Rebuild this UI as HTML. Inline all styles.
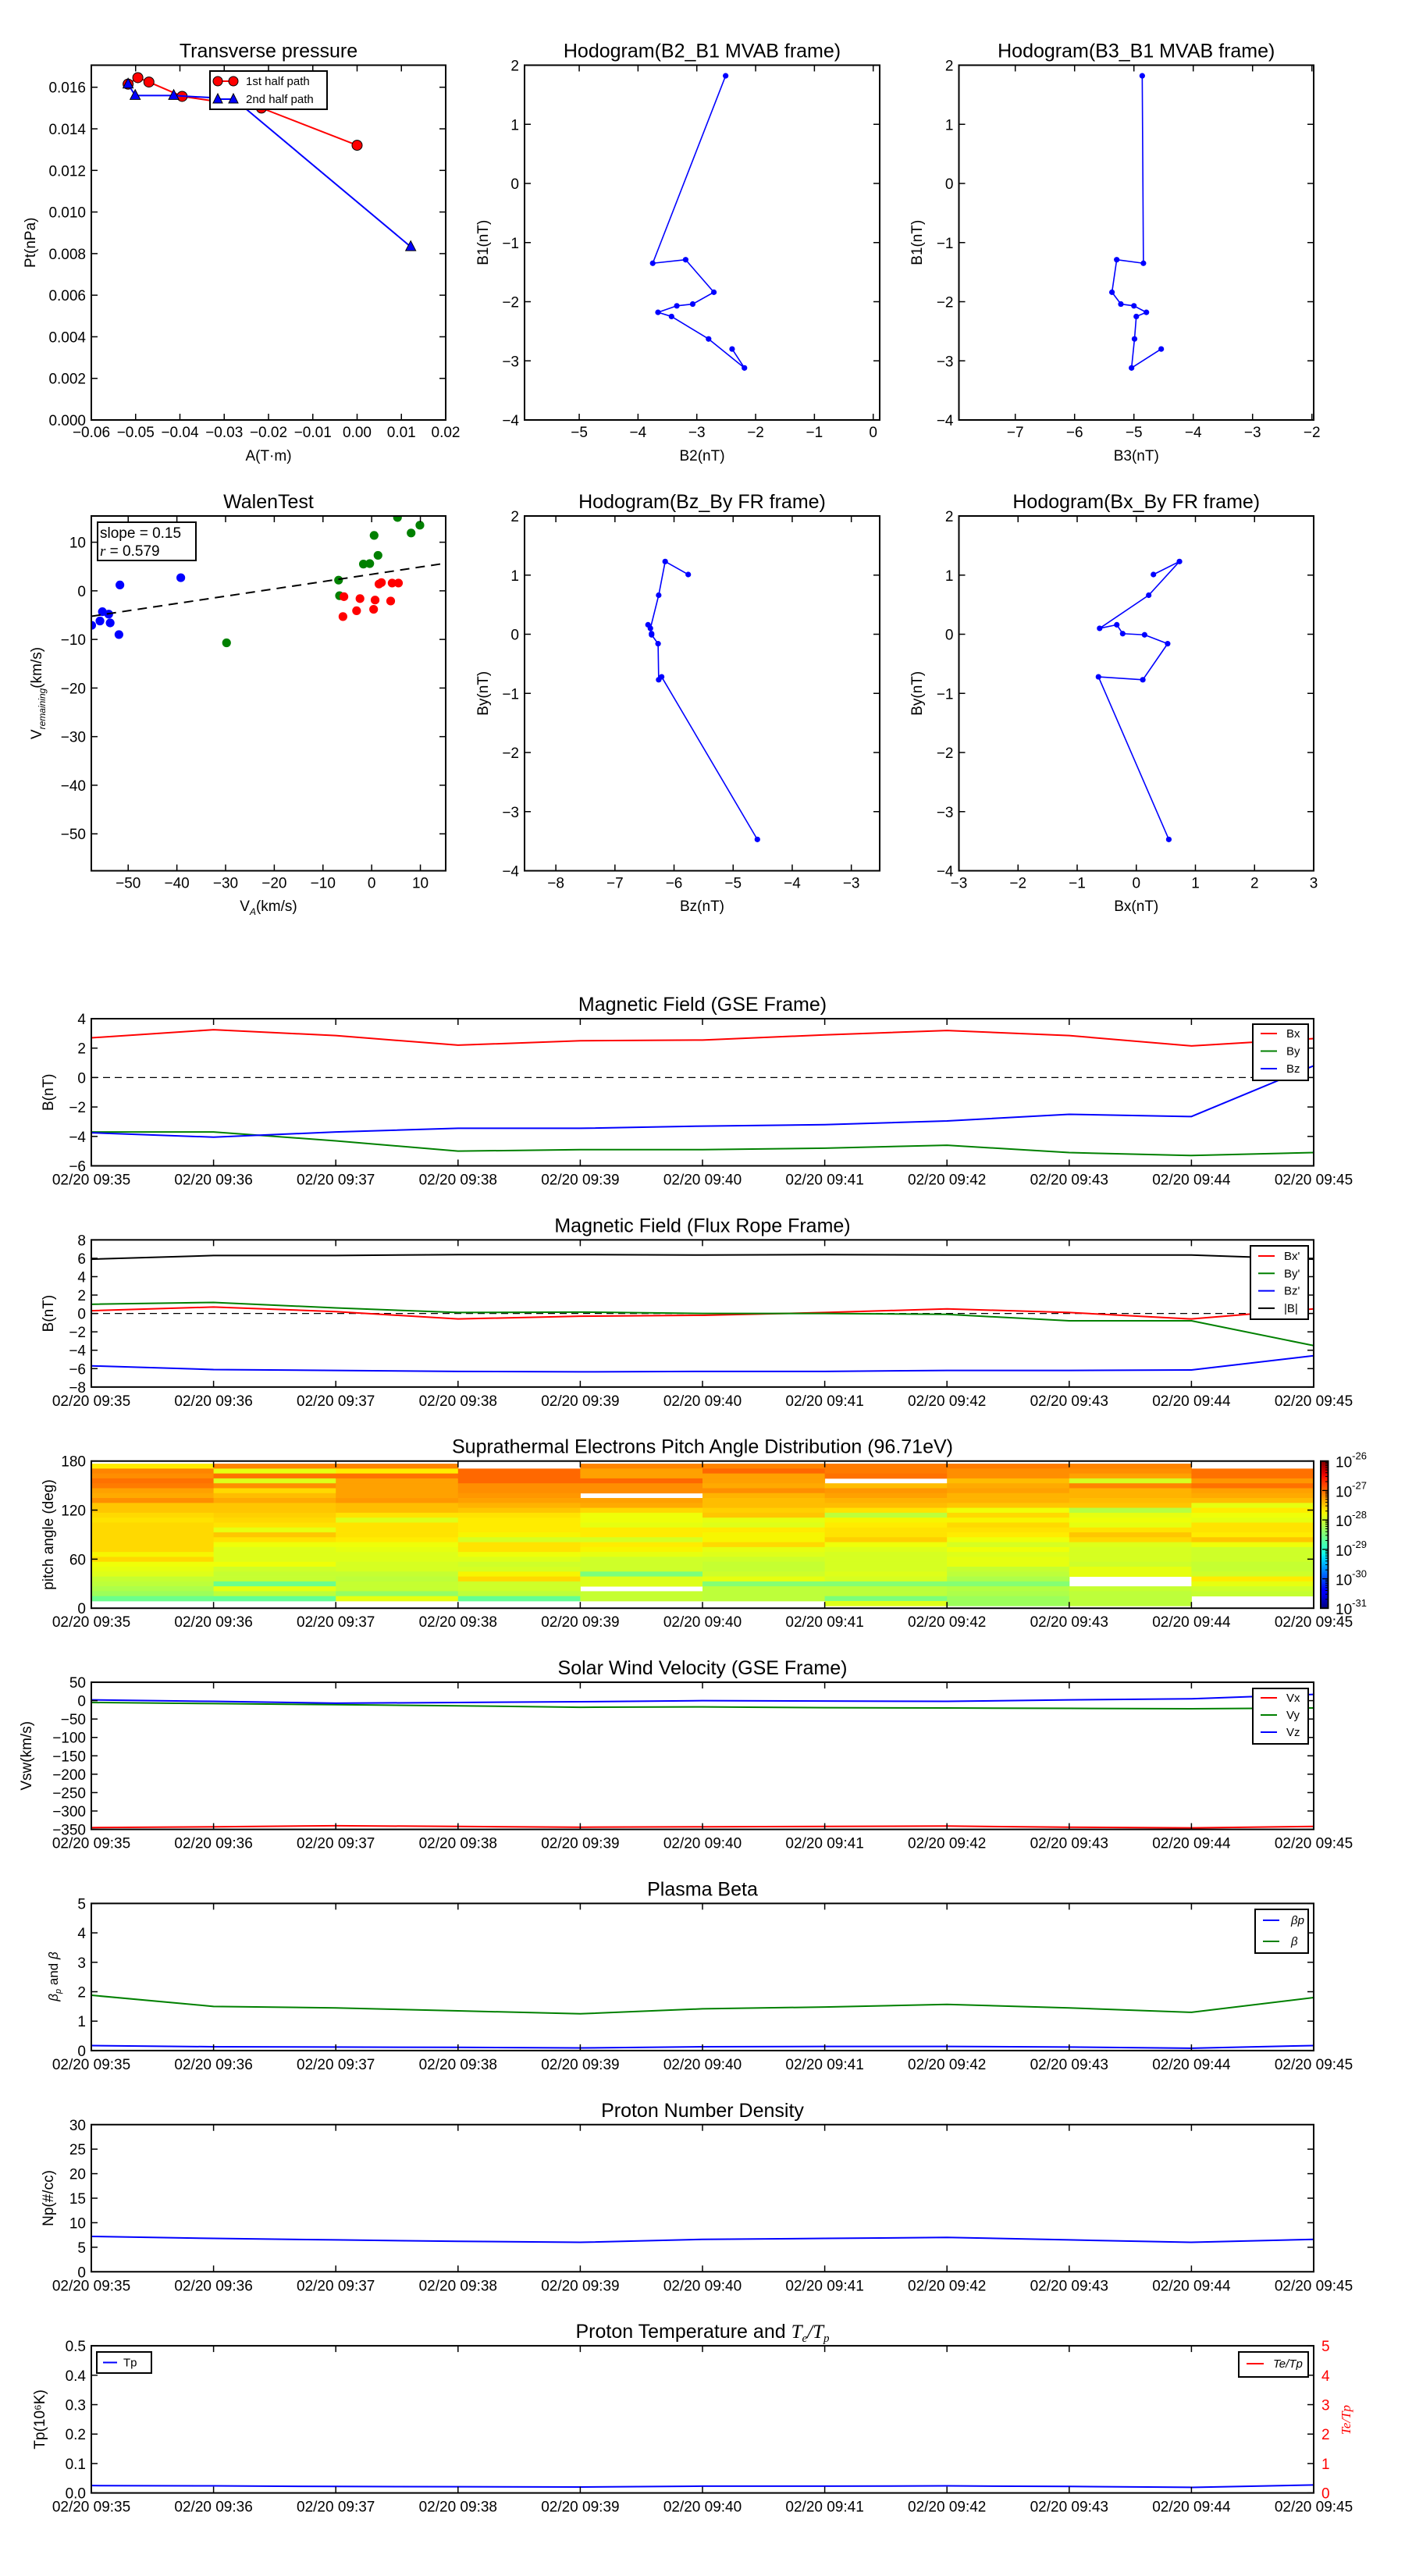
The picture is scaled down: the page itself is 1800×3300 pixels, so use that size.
<!DOCTYPE html>
<html><head><meta charset="utf-8"><title>Flux rope analysis</title>
<style>
html,body{margin:0;padding:0;background:#fff;}
svg{display:block;font-family:"Liberation Sans","DejaVu Sans",sans-serif;}
</style></head>
<body>
<svg id="fig" xmlns="http://www.w3.org/2000/svg" width="1800" height="3300" viewBox="0 0 1800 3300">
<rect x="0" y="0" width="1800" height="3300" fill="#fff"/>
</svg>
<script>
// ---------------- DATA ----------------
const timeLabels=['02/20 09:35','02/20 09:36','02/20 09:37','02/20 09:38','02/20 09:39','02/20 09:40','02/20 09:41','02/20 09:42','02/20 09:43','02/20 09:44','02/20 09:45'];
// transverse pressure
const ptA1=[-0.0517,-0.0495,-0.047,-0.0395,-0.0216,0.0];
const ptP1=[0.01615,0.01646,0.01625,0.01556,0.0150,0.01321];
const ptA2=[-0.0517,-0.0501,-0.0414,-0.0278,0.0121];
const ptP2=[0.01615,0.0156,0.0156,0.01544,0.00833];
// MVAB hodograms
const mvB1=[1.82,-1.35,-1.29,-1.84,-2.04,-2.07,-2.18,-2.25,-2.63,-3.12,-2.80];
const mvB2=[-2.51,-3.75,-3.19,-2.71,-3.07,-3.34,-3.66,-3.43,-2.80,-2.19,-2.40];
const mvB3=[-4.86,-4.84,-5.29,-5.37,-5.22,-5.00,-4.79,-4.96,-4.99,-5.04,-4.54];
// FR hodograms
const frBy=[1.01,1.23,0.66,0.10,0.16,0.01,-0.01,-0.16,-0.77,-0.72,-3.47];
const frBx=[0.29,0.73,0.21,-0.62,-0.33,-0.23,0.14,0.53,0.11,-0.64,0.55];
const frBz=[-5.76,-6.15,-6.26,-6.40,-6.44,-6.38,-6.38,-6.27,-6.26,-6.21,-4.59];
// Walen test
const walenBlueX=[-57.5,-55.8,-55.3,-54.0,-53.7,-51.9,-51.7,-39.2];
const walenBlueY=[-7.1,-6.2,-4.3,-4.8,-6.6,-9.0,1.2,2.7];
const walenGreenX=[-29.8,-6.8,-6.6,-1.7,-0.4,0.5,1.3,5.3,8.1,9.9];
const walenGreenY=[-10.7,2.2,-1.0,5.5,5.6,11.4,7.3,15.1,11.9,13.5];
const walenRedX=[-5.7,-5.9,-3.1,-2.4,0.4,0.7,1.5,2.0,3.9,4.2,5.5];
const walenRedY=[-1.2,-5.3,-4.1,-1.6,-3.8,-1.9,1.4,1.7,-2.1,1.6,1.6];
const walenSlope=0.15;
const walenIntercept=3.4;
// GSE B
const gseBx=[2.7,3.25,2.85,2.2,2.5,2.55,2.9,3.2,2.85,2.15,2.65];
const gseBy=[-3.7,-3.7,-4.3,-5.0,-4.9,-4.9,-4.8,-4.6,-5.1,-5.3,-5.1];
const gseBz=[-3.75,-4.05,-3.7,-3.45,-3.45,-3.3,-3.2,-2.95,-2.5,-2.65,0.8];
// FR B
const frpBx=[0.3,0.7,0.2,-0.6,-0.3,-0.2,0.1,0.5,0.1,-0.6,0.5];
const frpBy=[1.0,1.2,0.6,0.1,0.15,0.0,0.0,-0.1,-0.8,-0.8,-3.5];
const frpBz=[-5.7,-6.1,-6.2,-6.3,-6.35,-6.3,-6.3,-6.2,-6.2,-6.15,-4.6];
const frpBt=[5.9,6.3,6.3,6.4,6.4,6.35,6.4,6.35,6.35,6.35,5.9];
// PAD: log10 values, 10 columns, rows from top pitch bin down
const padBinWidth=6;
const padTopPitch=176.8;
const N=NaN;
const padCol0=[-27.7,-27.15,-27.2,-27.05,-27.1,-27.3,-27.35,-27.2,-27.5,-27.5,-27.6,-27.65,-27.6,-27.6,-27.6,-27.6,-27.6,-27.6,-27.75,-27.6,-27.8,-27.85,-27.9,-28.05,-28.1,-28.2,-28.3,-28.6,N];
const padCol1=[-27.15,-27.85,-27.05,-27.9,-27.2,-27.6,-27.45,-27.35,-27.5,-27.5,-27.55,-27.6,-27.65,-27.85,-27.5,-27.65,-27.8,-27.9,-27.9,-27.9,-27.8,-28.0,-28.05,-28.05,-28.6,-27.85,-28.1,-28.65,N];
const padCol2=[-27.15,-27.7,-27.05,-27.3,-27.3,-27.3,-27.3,-27.25,-27.45,-27.45,-27.65,-27.9,-27.65,-27.65,-27.65,-27.7,-27.8,-27.85,-27.9,-27.9,-27.95,-27.95,-28.05,-28.1,-28.05,-28.05,-28.35,-27.85,N];
const padCol3=[N,-27.0,-27.0,-27.0,-27.2,-27.2,-27.25,-27.3,-27.4,-27.5,-27.65,-27.7,-27.7,-27.7,-27.75,-27.95,-27.65,-27.65,-27.8,-27.9,-28.0,-27.95,-27.75,-27.6,-28.0,-28.0,-28.1,-28.65,N];
const padCol4=[-27.15,-27.3,-27.3,-27.0,-27.2,-27.2,N,-27.3,-27.35,-27.6,-27.8,-27.8,-27.85,-27.7,-27.7,-27.95,-27.7,-27.75,-27.85,-28.0,-28.0,-28.0,-28.5,-27.9,-27.9,N,-28.05,-28.05,N];
const padCol5=[-27.15,-27.0,-27.3,-27.3,-27.35,-27.2,-27.4,-27.45,-27.45,-27.55,-27.5,-27.85,-27.9,-27.7,-27.75,-27.75,-27.6,-27.85,-27.9,-28.0,-28.05,-28.05,-28.0,-27.85,-28.45,-28.1,-28.1,-28.1,N];
const padCol6=[-27.1,-27.1,-27.05,N,-27.45,-27.25,-27.3,-27.4,-27.45,-27.65,-28.1,-27.75,-27.7,-27.65,-27.65,-27.55,-27.8,-27.9,-27.95,-27.95,-27.95,-27.95,-27.9,-27.95,-28.45,-28.1,-28.1,-28.5,-27.9];
const padCol7=[-27.1,-27.2,-27.2,-27.45,-27.35,-27.3,-27.4,-27.4,-27.5,-27.8,-27.6,-27.75,-27.6,-27.65,-27.7,-27.8,-27.95,-27.8,-27.9,-27.85,-27.85,-28.05,-28.1,-28.2,-28.45,-28.15,-28.2,-28.3,-28.3];
const padCol8=[-27.15,-27.2,-27.3,-27.95,-27.15,-27.4,-27.4,-27.45,-27.5,-28.15,-27.85,-27.8,-27.85,-27.65,-27.5,-27.6,-27.9,-27.95,-27.95,-27.95,-28.0,-27.85,-27.85,N,N,-28.05,-28.1,-28.1,-28.1];
const padCol9=[N,-27.05,-27.05,-27.25,-27.05,-27.3,-27.35,-27.45,-27.85,-27.7,-27.8,-27.85,-27.65,-27.65,-27.7,-27.5,-27.8,-28.0,-28.0,-28.0,-28.05,-28.05,-28.0,-27.7,-27.85,-28.0,-28.05,N,N];
const padCols=[padCol0,padCol1,padCol2,padCol3,padCol4,padCol5,padCol6,padCol7,padCol8,padCol9];
const padLogMin=-31, padLogMax=-26;
// Solar wind velocity
const vswVx=[-345,-343,-340,-342,-344,-343,-342,-341,-344,-346,-342];
const vswVy=[-5,-8,-11,-14,-18,-17,-19,-20,-21,-22,-20];
const vswVz=[2,-2,-7,-5,-3,0,-1,-2,2,5,17];
// beta
const betaP=[0.17,0.13,0.12,0.11,0.09,0.13,0.14,0.14,0.12,0.08,0.17];
const betaT=[1.88,1.5,1.45,1.35,1.25,1.42,1.48,1.57,1.45,1.3,1.8];
// density
const npVals=[7.2,6.8,6.5,6.2,6.0,6.6,6.8,7.0,6.5,6.0,6.6];
// temperature
const tpVals=[0.025,0.024,0.022,0.021,0.020,0.023,0.023,0.024,0.022,0.019,0.027];

// ---------------- HELPERS ----------------
const NS='http://www.w3.org/2000/svg';
const svg=document.getElementById('fig');
let clipId=0;
function mk(tag,attrs,parent,name){
  const e=document.createElementNS(NS,tag);
  for(const k in attrs)e.setAttribute(k,attrs[k]);
  
  
  (parent||svg).appendChild(e);return e;
}
function txt(s,attrs,parent,name){const e=mk('text',attrs,parent,name);e.textContent=s;return e;}
function fmtMinus(s){return String(s).replace('-','\u2212');}

function axes(name,b,xlim,ylim,o){
  const g=mk('g',{},svg,name);
  const sx=v=>b.x+(v-xlim[0])/(xlim[1]-xlim[0])*b.w;
  const sy=v=>b.y+b.h-(v-ylim[0])/(ylim[1]-ylim[0])*b.h;
  const cid='clip'+(clipId++);
  const cp=mk('clipPath',{id:cid},g,name+'-clip');
  mk('rect',{x:b.x,y:b.y,width:b.w,height:b.h},cp,name+'-clip-rect');
  const data=mk('g',{'clip-path':'url(#'+cid+')'},g,name+'-data');
  const frame=mk('g',{},g,name+'-frame');
  mk('rect',{x:b.x,y:b.y,width:b.w,height:b.h,fill:'none',stroke:'#000','stroke-width':2},frame,name+'-spines');
  const xt=o.xt||[], yt=o.yt||[];
  xt.forEach((v,i)=>{
    const X=sx(v);
    mk('line',{x1:X,x2:X,y1:b.y+b.h,y2:b.y+b.h-8,stroke:'#000','stroke-width':1.5},frame,name+'-xtick');
    mk('line',{x1:X,x2:X,y1:b.y,y2:b.y+8,stroke:'#000','stroke-width':1.5},frame,name+'-xtick-top');
    txt(o.xtl[i],{x:X,y:b.y+b.h+(o.xly||24),'font-size':19,'text-anchor':'middle',fill:'#000'},frame,'x-tick-label');
  });
  yt.forEach((v,i)=>{
    const Y=sy(v);
    mk('line',{x1:b.x,x2:b.x+8,y1:Y,y2:Y,stroke:'#000','stroke-width':1.5},frame,name+'-ytick');
    if(!o.noRightTicks) mk('line',{x1:b.x+b.w,x2:b.x+b.w-8,y1:Y,y2:Y,stroke:'#000','stroke-width':1.5},frame,name+'-ytick-right');
    txt(o.ytl[i],{x:b.x-7,y:Y+7,'font-size':19,'text-anchor':'end',fill:'#000'},frame,'y-tick-label');
  });
  if(o.title) txt(o.title,{x:b.x+b.w/2,y:b.y-10,'font-size':25,'text-anchor':'middle'},frame,name+'-title');
  if(o.ylabel){const yl=txt(o.ylabel,{x:0,y:0,'font-size':19,'text-anchor':'middle',transform:'translate('+o.ylx+','+(b.y+b.h/2)+') rotate(-90)'},frame,name+'-y-axis-title');}
  if(o.xlabel){txt(o.xlabel,{x:b.x+b.w/2,y:o.xlabY,'font-size':19,'text-anchor':'middle'},frame,name+'-x-axis-title');}
  return {g,data,frame,sx,sy,b};
}
function polyline(ax,xs,ys,color,name,w){
  const pts=xs.map((x,i)=>ax.sx(x).toFixed(2)+','+ax.sy(ys[i]).toFixed(2)).join(' ');
  return mk('polyline',{points:pts,fill:'none',stroke:color,'stroke-width':w||2,'stroke-linejoin':'round'},ax.data,name);
}
function dots(ax,xs,ys,color,r,name,parent){
  xs.forEach((x,i)=>{mk('circle',{cx:ax.sx(x),cy:ax.sy(ys[i]),r:r,fill:color,stroke:'none'},parent||ax.data,name);});
}
function range(a,b,s){const r=[];for(let v=a;v<=b+1e-9;v+=s)r.push(Math.round(v*1e6)/1e6);return r;}
function intLabels(arr){return arr.map(v=>fmtMinus(v));}
function legend(ax,box,entries,name){
  const g=mk('g',{},ax.frame,name);
  mk('rect',{x:box.x,y:box.y,width:box.w,height:box.h,fill:'#fff',stroke:'#000','stroke-width':2},g,name+'-box');
  entries.forEach((e,i)=>{
    const Y=box.y+box.first+i*box.step;
    mk('line',{x1:box.x+box.lx1,x2:box.x+box.lx2,y1:Y,y2:Y,stroke:e.c,'stroke-width':2},g,'legend-line-'+e.id);
    const t=txt(e.t,{x:box.x+box.tx,y:Y+5,'font-size':15,'font-style':e.it?'italic':'normal'},g,'legend-entry-'+e.id);
  });
  return g;
}

// ---------------- TOP ROW ----------------
// Transverse pressure
(function(){
  const ax=axes('transverse-pressure',{x:117,y:83.5,w:454,h:454.5},[-0.06,0.02],[0,0.01706],{
    xt:range(-0.06,0.02,0.01),xtl:['\u22120.06','\u22120.05','\u22120.04','\u22120.03','\u22120.02','\u22120.01','0.00','0.01','0.02'],
    yt:range(0,0.016,0.002),ytl:['0.000','0.002','0.004','0.006','0.008','0.010','0.012','0.014','0.016'],
    title:'Transverse pressure',ylabel:'Pt(nPa)',ylx:45,xlabel:'A(T\u00b7m)',xlabY:590,xly:22});
  polyline(ax,ptA1,ptP1,'#ff0000','first-half-path-line');
  ptA1.forEach((a,i)=>{mk('circle',{cx:ax.sx(a),cy:ax.sy(ptP1[i]),r:6.5,fill:'#ff0000',stroke:'#000','stroke-width':1},ax.data,'first-half-marker');});
  polyline(ax,ptA2,ptP2,'#0000ff','second-half-path-line');
  ptA2.forEach((a,i)=>{const X=ax.sx(a),Y=ax.sy(ptP2[i]);
    mk('polygon',{points:X+','+(Y-7.5)+' '+(X-6.5)+','+(Y+5)+' '+(X+6.5)+','+(Y+5),fill:'#0000ff',stroke:'#000','stroke-width':1},ax.data,'second-half-marker');});
  const lg=mk('g',{},ax.frame,'pressure-legend');
  mk('rect',{x:269,y:91,width:150,height:49,fill:'#fff',stroke:'#000','stroke-width':2},lg,'pressure-legend-box');
  mk('line',{x1:279,x2:299,y1:104,y2:104,stroke:'#ff0000','stroke-width':2},lg,'legend-line-1st');
  mk('circle',{cx:279,cy:104,r:6,fill:'#ff0000',stroke:'#000','stroke-width':1},lg,'legend-marker-1st');
  mk('circle',{cx:299,cy:104,r:6,fill:'#ff0000',stroke:'#000','stroke-width':1},lg,'legend-marker-1st');
  txt('1st half path',{x:315,y:109,'font-size':15},lg,'legend-entry-1st-half');
  mk('line',{x1:279,x2:299,y1:127,y2:127,stroke:'#0000ff','stroke-width':2},lg,'legend-line-2nd');
  mk('polygon',{points:'279,120 273,132 285,132',fill:'#0000ff',stroke:'#000','stroke-width':1},lg,'legend-marker-2nd');
  mk('polygon',{points:'299,120 293,132 305,132',fill:'#0000ff',stroke:'#000','stroke-width':1},lg,'legend-marker-2nd');
  txt('2nd half path',{x:315,y:132,'font-size':15},lg,'legend-entry-2nd-half');
})();

function hodo(name,b,xlim,xt,xs,ys,title,ylabel,ylx,xlabel,xlabY,xly){
  const ax=axes(name,b,xlim,[-4,2],{xt:xt,xtl:intLabels(xt),yt:range(-4,2,1),ytl:intLabels(range(-4,2,1)),
    title:title,ylabel:ylabel,ylx:ylx,xlabel:xlabel,xlabY:xlabY,xly:xly});
  polyline(ax,xs,ys,'#0000ff','hodogram-line',1.6);
  dots(ax,xs,ys,'#0000ff',3.6,'hodogram-point');
  return ax;
}
hodo('hodogram-b2-b1',{x:672,y:83.5,w:455,h:454.5},[-5.93,0.11],range(-5,0,1),mvB2,mvB1,'Hodogram(B2_B1 MVAB frame)','B1(nT)',625,'B2(nT)',590,22);
hodo('hodogram-b3-b1',{x:1228.5,y:83.5,w:454.5,h:454.5},[-7.95,-1.97],range(-7,-2,1),mvB3,mvB1,'Hodogram(B3_B1 MVAB frame)','B1(nT)',1181,'B3(nT)',590,22);

// ---------------- SECOND ROW ----------------
(function(){
  const xt=range(-50,10,10), yt=range(-50,10,10);
  const ax=axes('walen-test',{x:117,y:661,w:454,h:454.5},[-57.57,15.2],[-57.6,15.4],{
    xt:xt,xtl:intLabels(xt),yt:yt,ytl:intLabels(yt),title:'WalenTest',xlabY:1167,xly:22});
  // labels with subscripts
  const yl=mk('text',{'font-size':19,'text-anchor':'middle',transform:'translate(53,888) rotate(-90)'},ax.frame,'walen-y-axis-title');
  const t1=mk('tspan',{},yl,'y-title-v');t1.textContent='V';
  const t2=mk('tspan',{'font-size':12,'font-style':'italic',dy:5},yl,'y-title-subscript');t2.textContent='remaining';
  const t3=mk('tspan',{dy:-5},yl,'y-title-unit');t3.textContent='(km/s)';
  const xl=mk('text',{x:344,y:1167,'font-size':19,'text-anchor':'middle'},ax.frame,'walen-x-axis-title');
  const s1=mk('tspan',{},xl,'x-title-v');s1.textContent='V';
  const s2=mk('tspan',{'font-size':12,'font-style':'italic',dy:5},xl,'x-title-subscript');s2.textContent='A';
  const s3=mk('tspan',{dy:-5},xl,'x-title-unit');s3.textContent='(km/s)';
  dots(ax,walenBlueX,walenBlueY,'#0000ff',5.6,'walen-point-blue');
  dots(ax,walenGreenX,walenGreenY,'#008000',5.6,'walen-point-green');
  dots(ax,walenRedX,walenRedY,'#ff0000',5.6,'walen-point-red');
  const x0=-57.57,x1=15.2;
  mk('line',{x1:ax.sx(x0),y1:ax.sy(walenSlope*x0+walenIntercept),x2:ax.sx(x1),y2:ax.sy(walenSlope*x1+walenIntercept),stroke:'#000','stroke-width':2,'stroke-dasharray':'12,8'},ax.data,'walen-fit-line');
  const bx=mk('g',{},ax.frame,'walen-stats-box');
  mk('rect',{x:125,y:669,width:126,height:49,fill:'#fff',stroke:'#000','stroke-width':2},bx,'walen-stats-frame');
  txt('slope = 0.15',{x:128,y:689,'font-size':19},bx,'walen-slope-text');
  const rt=mk('text',{x:128,y:712,'font-size':19},bx,'walen-r-text');
  const r1=mk('tspan',{'font-style':'italic','font-family':'Liberation Serif,serif'},rt,'r-symbol');r1.textContent='r';
  const r2=mk('tspan',{},rt,'r-value');r2.textContent=' = 0.579';
})();
hodo('hodogram-bz-by',{x:672,y:661,w:455,h:454.5},[-8.53,-2.52],range(-8,-3,1),frBz,frBy,'Hodogram(Bz_By FR frame)','By(nT)',625,'Bz(nT)',1167,22);
hodo('hodogram-bx-by',{x:1228.5,y:661,w:454.5,h:454.5},[-3,3],range(-3,3,1),frBx,frBy,'Hodogram(Bx_By FR frame)','By(nT)',1181,'Bx(nT)',1167,22);

// ---------------- TIME SERIES ----------------
const tIdx=timeLabels.map((_,i)=>i);
function tsPanel(i,name,ylim,yt,ytl,title,ylabel,ylx,opts){
  const top=1305+283.35*i;
  opts=opts||{};
  return axes(name,{x:117,y:top,w:1566,h:188.5},[0,10],ylim,Object.assign({xt:tIdx,xtl:timeLabels,yt:yt,ytl:ytl,title:title,ylabel:ylabel,ylx:ylx,xly:24},opts));
}
// GSE
(function(){
  const yt=range(-6,4,2);
  const ax=tsPanel(0,'magnetic-field-gse',[-6,4],yt,intLabels(yt),'Magnetic Field (GSE Frame)','B(nT)',68);
  mk('line',{x1:ax.sx(0),x2:ax.sx(10),y1:ax.sy(0),y2:ax.sy(0),stroke:'#000','stroke-width':1.3,'stroke-dasharray':'9,6'},ax.data,'zero-line');
  polyline(ax,tIdx,gseBx,'#ff0000','series-bx');
  polyline(ax,tIdx,gseBy,'#008000','series-by');
  polyline(ax,tIdx,gseBz,'#0000ff','series-bz');
  legend(ax,{x:1605,y:1312,w:71,h:72,first:12,step:22.5,lx1:10,lx2:31,tx:43},[{t:'Bx',c:'#ff0000',id:'bx'},{t:'By',c:'#008000',id:'by'},{t:'Bz',c:'#0000ff',id:'bz'}],'gse-legend');
})();
// FR
(function(){
  const yt=range(-8,8,2);
  const ax=tsPanel(1,'magnetic-field-flux-rope',[-8,8],yt,intLabels(yt),'Magnetic Field (Flux Rope Frame)','B(nT)',68);
  mk('line',{x1:ax.sx(0),x2:ax.sx(10),y1:ax.sy(0),y2:ax.sy(0),stroke:'#000','stroke-width':1.3,'stroke-dasharray':'9,6'},ax.data,'zero-line');
  polyline(ax,tIdx,frpBt,'#000000','series-btotal');
  polyline(ax,tIdx,frpBx,'#ff0000','series-bx-prime');
  polyline(ax,tIdx,frpBy,'#008000','series-by-prime');
  polyline(ax,tIdx,frpBz,'#0000ff','series-bz-prime');
  legend(ax,{x:1602,y:1596,w:74,h:94,first:13,step:22.3,lx1:10,lx2:31,tx:43},[{t:"Bx'",c:'#ff0000',id:'bx-prime'},{t:"By'",c:'#008000',id:'by-prime'},{t:"Bz'",c:'#0000ff',id:'bz-prime'},{t:'|B|',c:'#000',id:'btotal'}],'fr-legend');
})();
// PAD
function jetChan(f,pts){for(let k=1;k<pts.length;k++){if(f<=pts[k][0]){const a=pts[k-1],b=pts[k];return a[1]+(b[1]-a[1])*(f-a[0])/(b[0]-a[0]);}}return pts[pts.length-1][1];}
function jet(f){f=Math.max(0,Math.min(1,f));
  const r=jetChan(f,[[0,0],[0.35,0],[0.66,1],[0.89,1],[1,0.5]]);
  const g=jetChan(f,[[0,0],[0.125,0],[0.375,1],[0.64,1],[0.91,0],[1,0]]);
  const b=jetChan(f,[[0,0.5],[0.11,1],[0.34,1],[0.65,0],[1,0]]);
  return 'rgb('+Math.round(r*255)+','+Math.round(g*255)+','+Math.round(b*255)+')';}
(function(){
  const yt=[0,60,120,180];
  const ax=tsPanel(2,'pitch-angle-distribution',[0,180],yt,['0','60','120','180'],'Suprathermal Electrons Pitch Angle Distribution (96.71eV)','pitch angle (deg)',68,{noRightTicks:false});
  padCols.forEach((col,ci)=>{
    col.forEach((v,ri)=>{
      if(isNaN(v))return;
      const pHi=padTopPitch-ri*padBinWidth, pLo=pHi-padBinWidth;
      const X0=ax.sx(ci),X1=ax.sx(ci+1),Y0=ax.sy(pHi),Y1=ax.sy(pLo);
      const c=mk('rect',{x:X0.toFixed(2),y:Y0.toFixed(2),width:(X1-X0+0.5).toFixed(2),height:(Y1-Y0+0.4).toFixed(2),fill:jet((v-padLogMin)/(padLogMax-padLogMin))},ax.data,'heatmap-cell');
    });
  });
  // bring frame to top
  ax.g.appendChild(ax.frame);
  // colorbar
  const top=ax.b.y,h=ax.b.h;
  const defs=mk('defs',{},svg,'colorbar-defs');
  const lg=mk('linearGradient',{id:'jetgrad',x1:0,y1:1,x2:0,y2:0},defs,'jet-gradient');
  for(let k=0;k<=40;k++){mk('stop',{offset:k/40,'stop-color':jet(k/40)},lg,'gradient-stop');}
  const cb=mk('g',{},svg,'colorbar');
  mk('rect',{x:1692,y:top,width:9.5,height:h,fill:'url(#jetgrad)',stroke:'#000','stroke-width':2},cb,'colorbar-bar');
  for(let d=padLogMin;d<=padLogMax;d++){
    const Y=top+h-(d-padLogMin)/(padLogMax-padLogMin)*h;
    mk('line',{x1:1694,x2:1701.5,y1:Y,y2:Y,stroke:'#000','stroke-width':1.3},cb,'colorbar-tick');
    if(d<padLogMax){for(let m=2;m<=9;m++){const Ym=Y-Math.log10(m)/(padLogMax-padLogMin)*h;mk('line',{x1:1698,x2:1701.5,y1:Ym,y2:Ym,stroke:'#000','stroke-width':1},cb,'colorbar-minor-tick');}}
    const t=mk('text',{x:1711,y:Y+8,'font-size':19},cb,'colorbar-label');
    const a=mk('tspan',{},t,'colorbar-label-base');a.textContent='10';
    const e=mk('tspan',{dy:-10,'font-size':13},t,'colorbar-label-exp');e.textContent=String(d);
  }
})();
// Vsw
(function(){
  const yt=range(-350,50,50);
  const ax=tsPanel(3,'solar-wind-velocity',[-350,50],yt,intLabels(yt),'Solar Wind Velocity (GSE Frame)','Vsw(km/s)',40);
  polyline(ax,tIdx,vswVx,'#ff0000','series-vx');
  polyline(ax,tIdx,vswVy,'#008000','series-vy');
  polyline(ax,tIdx,vswVz,'#0000ff','series-vz');
  legend(ax,{x:1605,y:2163,w:71,h:71,first:12,step:22,lx1:10,lx2:31,tx:43},[{t:'Vx',c:'#ff0000',id:'vx'},{t:'Vy',c:'#008000',id:'vy'},{t:'Vz',c:'#0000ff',id:'vz'}],'vsw-legend');
})();
// Beta
(function(){
  const yt=range(0,5,1);
  const ax=tsPanel(4,'plasma-beta',[0,5],yt,intLabels(yt),'Plasma Beta',null,0);
  const yl=mk('text',{'font-size':17,'text-anchor':'middle',transform:'translate(74,2532) rotate(-90)'},ax.frame,'beta-y-axis-title');
  const a=mk('tspan',{'font-style':'italic'},yl,'beta-p');a.textContent='\u03b2';
  const b=mk('tspan',{'font-size':11,'font-style':'italic',dy:4},yl,'beta-p-sub');b.textContent='p';
  const c=mk('tspan',{dy:-4},yl,'beta-and');c.textContent=' and ';
  const d=mk('tspan',{'font-style':'italic'},yl,'beta-total');d.textContent='\u03b2';
  polyline(ax,tIdx,betaP,'#0000ff','series-beta-p');
  polyline(ax,tIdx,betaT,'#008000','series-beta');
  const lg=legend(ax,{x:1608,y:2446,w:68,h:56,first:14,step:27,lx1:10,lx2:31,tx:46},[{t:'\u03b2p',c:'#0000ff',id:'beta-p',it:true},{t:'\u03b2',c:'#008000',id:'beta',it:true}],'beta-legend');
})();
// Np
(function(){
  const yt=range(0,30,5);
  const ax=tsPanel(5,'proton-number-density',[0,30],yt,intLabels(yt),'Proton Number Density','Np(#/cc)',68);
  polyline(ax,tIdx,npVals,'#0000ff','series-np');
})();
// Tp
(function(){
  const yt=range(0,0.5,0.1);
  const ax=tsPanel(6,'proton-temperature',[0,0.5],yt,yt.map(v=>v.toFixed(1)),null,'Tp(10\u2076K)',57,{noRightTicks:true});
  const tt=mk('text',{x:900,y:2995,'font-size':25,'text-anchor':'middle'},ax.frame,'proton-temperature-title');
  const t1=mk('tspan',{},tt,'title-main');t1.textContent='Proton Temperature and ';
  const t2=mk('tspan',{'font-style':'italic','font-family':'Liberation Serif,serif'},tt,'title-te');t2.textContent='T';
  const t3=mk('tspan',{'font-size':15,'font-style':'italic','font-family':'Liberation Serif,serif',dy:5},tt,'title-e');t3.textContent='e';
  const t4=mk('tspan',{'font-style':'italic','font-family':'Liberation Serif,serif',dy:-5},tt,'title-slash');t4.textContent='/T';
  const t5=mk('tspan',{'font-size':15,'font-style':'italic','font-family':'Liberation Serif,serif',dy:5},tt,'title-p');t5.textContent='p';
  // right axis
  const rt=range(0,5,1);
  rt.forEach(v=>{const Y=ax.b.y+ax.b.h-v/5*ax.b.h;
    mk('line',{x1:1683,x2:1675,y1:Y,y2:Y,stroke:'#000','stroke-width':1.5},ax.frame,'right-ytick');
    txt(String(v),{x:1693,y:Y+7,'font-size':19,fill:'#ff0000'},ax.frame,'right-y-tick-label');});
  const ry=txt('Te/Tp',{x:0,y:0,'font-size':17,'font-style':'italic','font-family':'Liberation Serif,serif',fill:'#ff0000','text-anchor':'middle',transform:'translate(1730,3100) rotate(-90)'},ax.frame,'right-y-axis-title');
  polyline(ax,tIdx,tpVals,'#0000ff','series-tp');
  legend(ax,{x:124,y:3013,w:70,h:27,first:13.5,step:0,lx1:8,lx2:26,tx:34},[{t:'Tp',c:'#0000ff',id:'tp'}],'tp-legend');
  legend(ax,{x:1587,y:3013,w:89,h:32,first:15,step:0,lx1:10,lx2:32,tx:44},[{t:'Te/Tp',c:'#ff0000',id:'te-tp',it:true}],'te-tp-legend');
})();
</script>
</body></html>
